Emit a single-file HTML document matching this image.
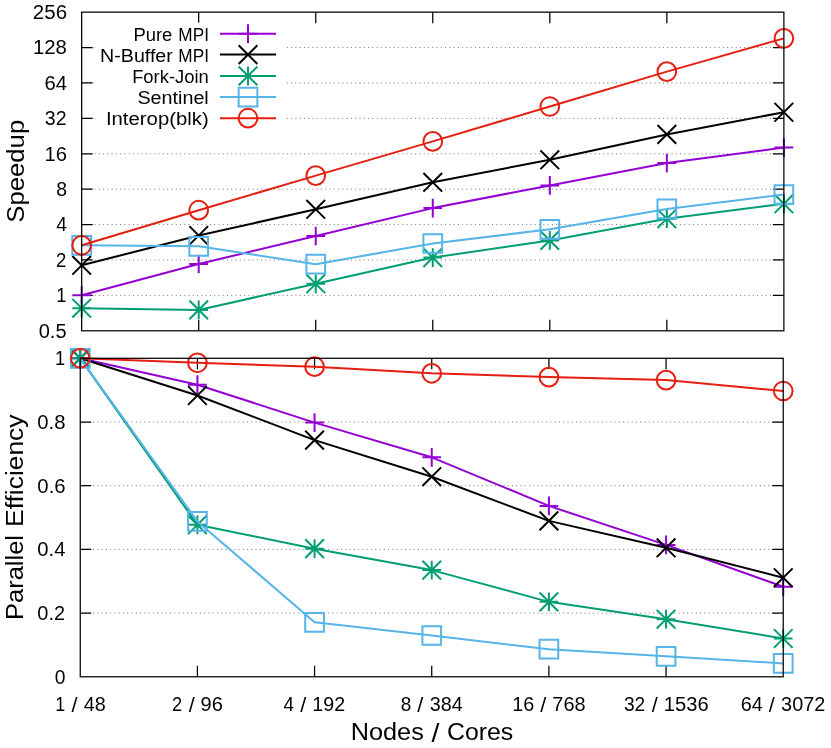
<!DOCTYPE html>
<html lang="en"><head><meta charset="utf-8"><title>Speedup and Parallel Efficiency</title>
<style>html,body{margin:0;padding:0;background:#fff}body{width:831px;height:748px;overflow:hidden;font-family:"Liberation Sans",sans-serif}svg{display:block}</style>
</head><body>
<svg width="831" height="748" viewBox="0 0 831 748" font-family="'Liberation Sans', sans-serif" fill="#000">
<rect width="831" height="748" fill="#fff"/>
<g>
<path d="M81.67 47.56H783.88M81.67 82.96H783.88M81.67 118.37H783.88M81.67 153.77H783.88M81.67 189.18H783.88M81.67 224.58H783.88M81.67 259.99H783.88M81.67 295.39H783.88" fill="none" stroke="#000" stroke-width="0.55" stroke-dasharray="1 3.2745"/>
<path d="M198.7 330.8v-11.0M198.7 12.15v11.0M315.74 330.8v-11.0M315.74 12.15v11.0M432.77 330.8v-11.0M432.77 12.15v11.0M549.81 330.8v-11.0M549.81 12.15v11.0M666.84 330.8v-11.0M666.84 12.15v11.0M81.67 47.56h11.0M783.88 47.56h-11.0M81.67 82.96h11.0M783.88 82.96h-11.0M81.67 118.37h11.0M783.88 118.37h-11.0M81.67 153.77h11.0M783.88 153.77h-11.0M81.67 189.18h11.0M783.88 189.18h-11.0M81.67 224.58h11.0M783.88 224.58h-11.0M81.67 259.99h11.0M783.88 259.99h-11.0M81.67 295.39h11.0M783.88 295.39h-11.0" fill="none" stroke="#000" stroke-width="1.25"/>
<polyline points="81.67,295.3 198.7,264 315.74,236 432.77,208.1 549.81,185.4 666.84,163 783.88,147.6" fill="none" stroke="#9400D3" stroke-width="2.0" stroke-linejoin="round"/>
<path d="M72.32 295.3H91.02M81.67 285.95V304.65" fill="none" stroke="#9400D3" stroke-width="2.0"/>
<path d="M189.35 264H208.05M198.7 254.65V273.35" fill="none" stroke="#9400D3" stroke-width="2.0"/>
<path d="M306.39 236H325.09M315.74 226.65V245.35" fill="none" stroke="#9400D3" stroke-width="2.0"/>
<path d="M423.42 208.1H442.12M432.77 198.75V217.45" fill="none" stroke="#9400D3" stroke-width="2.0"/>
<path d="M540.46 185.4H559.16M549.81 176.05V194.75" fill="none" stroke="#9400D3" stroke-width="2.0"/>
<path d="M657.49 163H676.19M666.84 153.65V172.35" fill="none" stroke="#9400D3" stroke-width="2.0"/>
<path d="M774.52 147.6H793.23M783.88 138.25V156.95" fill="none" stroke="#9400D3" stroke-width="2.0"/>
<polyline points="81.67,265.3 198.7,235.5 315.74,209.3 432.77,182.3 549.81,159.8 666.84,134.4 783.88,112.25" fill="none" stroke="#000000" stroke-width="2.0" stroke-linejoin="round"/>
<path d="M72.32 255.95L91.02 274.65M72.32 274.65L91.02 255.95" fill="none" stroke="#000000" stroke-width="2.0"/>
<path d="M189.35 226.15L208.05 244.85M189.35 244.85L208.05 226.15" fill="none" stroke="#000000" stroke-width="2.0"/>
<path d="M306.39 199.95L325.09 218.65M306.39 218.65L325.09 199.95" fill="none" stroke="#000000" stroke-width="2.0"/>
<path d="M423.42 172.95L442.12 191.65M423.42 191.65L442.12 172.95" fill="none" stroke="#000000" stroke-width="2.0"/>
<path d="M540.46 150.45L559.16 169.15M540.46 169.15L559.16 150.45" fill="none" stroke="#000000" stroke-width="2.0"/>
<path d="M657.49 125.05L676.19 143.75M657.49 143.75L676.19 125.05" fill="none" stroke="#000000" stroke-width="2.0"/>
<path d="M774.52 102.9L793.23 121.6M774.52 121.6L793.23 102.9" fill="none" stroke="#000000" stroke-width="2.0"/>
<polyline points="81.67,308.2 198.7,309.9 315.74,283.8 432.77,257.6 549.81,240.4 666.84,218.7 783.88,203.8" fill="none" stroke="#009E73" stroke-width="2.0" stroke-linejoin="round"/>
<path d="M72.32 308.2H91.02M81.67 298.85V317.55M72.32 298.85L91.02 317.55M72.32 317.55L91.02 298.85" fill="none" stroke="#009E73" stroke-width="2.0"/>
<path d="M189.35 309.9H208.05M198.7 300.55V319.25M189.35 300.55L208.05 319.25M189.35 319.25L208.05 300.55" fill="none" stroke="#009E73" stroke-width="2.0"/>
<path d="M306.39 283.8H325.09M315.74 274.45V293.15M306.39 274.45L325.09 293.15M306.39 293.15L325.09 274.45" fill="none" stroke="#009E73" stroke-width="2.0"/>
<path d="M423.42 257.6H442.12M432.77 248.25V266.95M423.42 248.25L442.12 266.95M423.42 266.95L442.12 248.25" fill="none" stroke="#009E73" stroke-width="2.0"/>
<path d="M540.46 240.4H559.16M549.81 231.05V249.75M540.46 231.05L559.16 249.75M540.46 249.75L559.16 231.05" fill="none" stroke="#009E73" stroke-width="2.0"/>
<path d="M657.49 218.7H676.19M666.84 209.35V228.05M657.49 209.35L676.19 228.05M657.49 228.05L676.19 209.35" fill="none" stroke="#009E73" stroke-width="2.0"/>
<path d="M774.52 203.8H793.23M783.88 194.45V213.15M774.52 194.45L793.23 213.15M774.52 213.15L793.23 194.45" fill="none" stroke="#009E73" stroke-width="2.0"/>
<polyline points="81.67,245.3 198.7,246.3 315.74,264.2 432.77,243.5 549.81,229.3 666.84,208.9 783.88,194.6" fill="none" stroke="#56B4E9" stroke-width="2.0" stroke-linejoin="round"/>
<path d="M72.32 235.95H91.02V254.65H72.32Z" fill="none" stroke="#56B4E9" stroke-width="2.0"/>
<path d="M189.35 236.95H208.05V255.65H189.35Z" fill="none" stroke="#56B4E9" stroke-width="2.0"/>
<path d="M306.39 254.85H325.09V273.55H306.39Z" fill="none" stroke="#56B4E9" stroke-width="2.0"/>
<path d="M423.42 234.15H442.12V252.85H423.42Z" fill="none" stroke="#56B4E9" stroke-width="2.0"/>
<path d="M540.46 219.95H559.16V238.65H540.46Z" fill="none" stroke="#56B4E9" stroke-width="2.0"/>
<path d="M657.49 199.55H676.19V218.25H657.49Z" fill="none" stroke="#56B4E9" stroke-width="2.0"/>
<path d="M774.52 185.25H793.23V203.95H774.52Z" fill="none" stroke="#56B4E9" stroke-width="2.0"/>
<polyline points="81.67,245.3 198.7,210.2 315.74,175.6 432.77,141.4 549.81,106.5 666.84,71.6 783.88,38.35" fill="none" stroke="#E51E10" stroke-width="2.0" stroke-linejoin="round"/>
<circle cx="81.67" cy="245.3" r="9.35" fill="none" stroke="#E51E10" stroke-width="2.0"/>
<circle cx="198.7" cy="210.2" r="9.35" fill="none" stroke="#E51E10" stroke-width="2.0"/>
<circle cx="315.74" cy="175.6" r="9.35" fill="none" stroke="#E51E10" stroke-width="2.0"/>
<circle cx="432.77" cy="141.4" r="9.35" fill="none" stroke="#E51E10" stroke-width="2.0"/>
<circle cx="549.81" cy="106.5" r="9.35" fill="none" stroke="#E51E10" stroke-width="2.0"/>
<circle cx="666.84" cy="71.6" r="9.35" fill="none" stroke="#E51E10" stroke-width="2.0"/>
<circle cx="783.88" cy="38.35" r="9.35" fill="none" stroke="#E51E10" stroke-width="2.0"/>
<rect x="95.0" y="22.6" width="191.3" height="106.4" fill="#fff"/>
<path d="M219.9 33.7H276.1" stroke="#9400D3" stroke-width="2.0" fill="none"/>
<path d="M238.65 33.7H257.35M248 24.35V43.05" fill="none" stroke="#9400D3" stroke-width="2.0"/>
<path d="M219.9 54.6H276.1" stroke="#000000" stroke-width="2.0" fill="none"/>
<path d="M238.65 45.25L257.35 63.95M238.65 63.95L257.35 45.25" fill="none" stroke="#000000" stroke-width="2.0"/>
<path d="M219.9 75.9H276.1" stroke="#009E73" stroke-width="2.0" fill="none"/>
<path d="M238.65 75.9H257.35M248 66.55V85.25M238.65 66.55L257.35 85.25M238.65 85.25L257.35 66.55" fill="none" stroke="#009E73" stroke-width="2.0"/>
<path d="M219.9 97.1H276.1" stroke="#56B4E9" stroke-width="2.0" fill="none"/>
<path d="M238.65 87.75H257.35V106.45H238.65Z" fill="none" stroke="#56B4E9" stroke-width="2.0"/>
<path d="M219.9 118.2H276.1" stroke="#E51E10" stroke-width="2.0" fill="none"/>
<circle cx="248" cy="118.2" r="9.35" fill="none" stroke="#E51E10" stroke-width="2.0"/>
<rect x="81.67" y="12.15" width="702.21" height="318.65" fill="none" stroke="#000" stroke-width="1.25"/>
</g>
<g>
<path d="M80.25 422H783.22M80.25 485.7H783.22M80.25 549.4H783.22M80.25 613.1H783.22" fill="none" stroke="#000" stroke-width="0.55" stroke-dasharray="1 3.2745"/>
<path d="M197.41 676.8v-11.0M197.41 358.3v11.0M314.57 676.8v-11.0M314.57 358.3v11.0M431.73 676.8v-11.0M431.73 358.3v11.0M548.9 676.8v-11.0M548.9 358.3v11.0M666.06 676.8v-11.0M666.06 358.3v11.0M80.25 422h11.0M783.22 422h-11.0M80.25 485.7h11.0M783.22 485.7h-11.0M80.25 549.4h11.0M783.22 549.4h-11.0M80.25 613.1h11.0M783.22 613.1h-11.0" fill="none" stroke="#000" stroke-width="1.25"/>
<polyline points="80.25,358.3 197.41,384.7 314.57,422.6 431.73,457.3 548.9,505.9 666.06,544.9 783.22,586.7" fill="none" stroke="#9400D3" stroke-width="2.0" stroke-linejoin="round"/>
<path d="M70.9 358.3H89.6M80.25 348.95V367.65" fill="none" stroke="#9400D3" stroke-width="2.0"/>
<path d="M188.06 384.7H206.76M197.41 375.35V394.05" fill="none" stroke="#9400D3" stroke-width="2.0"/>
<path d="M305.22 422.6H323.92M314.57 413.25V431.95" fill="none" stroke="#9400D3" stroke-width="2.0"/>
<path d="M422.38 457.3H441.08M431.73 447.95V466.65" fill="none" stroke="#9400D3" stroke-width="2.0"/>
<path d="M539.55 505.9H558.25M548.9 496.55V515.25" fill="none" stroke="#9400D3" stroke-width="2.0"/>
<path d="M656.71 544.9H675.41M666.06 535.55V554.25" fill="none" stroke="#9400D3" stroke-width="2.0"/>
<path d="M773.87 586.7H792.57M783.22 577.35V596.05" fill="none" stroke="#9400D3" stroke-width="2.0"/>
<polyline points="80.25,358.3 197.41,395.5 314.57,440.1 431.73,476.7 548.9,520.9 666.06,547.8 783.22,577.7" fill="none" stroke="#000000" stroke-width="2.0" stroke-linejoin="round"/>
<path d="M70.9 348.95L89.6 367.65M70.9 367.65L89.6 348.95" fill="none" stroke="#000000" stroke-width="2.0"/>
<path d="M188.06 386.15L206.76 404.85M188.06 404.85L206.76 386.15" fill="none" stroke="#000000" stroke-width="2.0"/>
<path d="M305.22 430.75L323.92 449.45M305.22 449.45L323.92 430.75" fill="none" stroke="#000000" stroke-width="2.0"/>
<path d="M422.38 467.35L441.08 486.05M422.38 486.05L441.08 467.35" fill="none" stroke="#000000" stroke-width="2.0"/>
<path d="M539.55 511.55L558.25 530.25M539.55 530.25L558.25 511.55" fill="none" stroke="#000000" stroke-width="2.0"/>
<path d="M656.71 538.45L675.41 557.15M656.71 557.15L675.41 538.45" fill="none" stroke="#000000" stroke-width="2.0"/>
<path d="M773.87 568.35L792.57 587.05M773.87 587.05L792.57 568.35" fill="none" stroke="#000000" stroke-width="2.0"/>
<polyline points="80.25,358.3 197.41,524.8 314.57,548.65 431.73,570.1 548.9,601.85 666.06,619.2 783.22,638.5" fill="none" stroke="#009E73" stroke-width="2.0" stroke-linejoin="round"/>
<path d="M70.9 358.3H89.6M80.25 348.95V367.65M70.9 348.95L89.6 367.65M70.9 367.65L89.6 348.95" fill="none" stroke="#009E73" stroke-width="2.0"/>
<path d="M188.06 524.8H206.76M197.41 515.45V534.15M188.06 515.45L206.76 534.15M188.06 534.15L206.76 515.45" fill="none" stroke="#009E73" stroke-width="2.0"/>
<path d="M305.22 548.65H323.92M314.57 539.3V558M305.22 539.3L323.92 558M305.22 558L323.92 539.3" fill="none" stroke="#009E73" stroke-width="2.0"/>
<path d="M422.38 570.1H441.08M431.73 560.75V579.45M422.38 560.75L441.08 579.45M422.38 579.45L441.08 560.75" fill="none" stroke="#009E73" stroke-width="2.0"/>
<path d="M539.55 601.85H558.25M548.9 592.5V611.2M539.55 592.5L558.25 611.2M539.55 611.2L558.25 592.5" fill="none" stroke="#009E73" stroke-width="2.0"/>
<path d="M656.71 619.2H675.41M666.06 609.85V628.55M656.71 609.85L675.41 628.55M656.71 628.55L675.41 609.85" fill="none" stroke="#009E73" stroke-width="2.0"/>
<path d="M773.87 638.5H792.57M783.22 629.15V647.85M773.87 629.15L792.57 647.85M773.87 647.85L792.57 629.15" fill="none" stroke="#009E73" stroke-width="2.0"/>
<polyline points="80.25,358.3 197.41,521.4 314.57,622.3 431.73,635.5 548.9,649.2 666.06,656.3 783.22,663.4" fill="none" stroke="#56B4E9" stroke-width="2.0" stroke-linejoin="round"/>
<path d="M70.9 348.95H89.6V367.65H70.9Z" fill="none" stroke="#56B4E9" stroke-width="2.0"/>
<path d="M188.06 512.05H206.76V530.75H188.06Z" fill="none" stroke="#56B4E9" stroke-width="2.0"/>
<path d="M305.22 612.95H323.92V631.65H305.22Z" fill="none" stroke="#56B4E9" stroke-width="2.0"/>
<path d="M422.38 626.15H441.08V644.85H422.38Z" fill="none" stroke="#56B4E9" stroke-width="2.0"/>
<path d="M539.55 639.85H558.25V658.55H539.55Z" fill="none" stroke="#56B4E9" stroke-width="2.0"/>
<path d="M656.71 646.95H675.41V665.65H656.71Z" fill="none" stroke="#56B4E9" stroke-width="2.0"/>
<path d="M773.87 654.05H792.57V672.75H773.87Z" fill="none" stroke="#56B4E9" stroke-width="2.0"/>
<polyline points="80.25,358.3 197.41,362.8 314.57,366.7 431.73,373.3 548.9,377.1 666.06,380.1 783.22,391" fill="none" stroke="#E51E10" stroke-width="2.0" stroke-linejoin="round"/>
<circle cx="80.25" cy="358.3" r="9.35" fill="none" stroke="#E51E10" stroke-width="2.0"/>
<circle cx="197.41" cy="362.8" r="9.35" fill="none" stroke="#E51E10" stroke-width="2.0"/>
<circle cx="314.57" cy="366.7" r="9.35" fill="none" stroke="#E51E10" stroke-width="2.0"/>
<circle cx="431.73" cy="373.3" r="9.35" fill="none" stroke="#E51E10" stroke-width="2.0"/>
<circle cx="548.9" cy="377.1" r="9.35" fill="none" stroke="#E51E10" stroke-width="2.0"/>
<circle cx="666.06" cy="380.1" r="9.35" fill="none" stroke="#E51E10" stroke-width="2.0"/>
<circle cx="783.22" cy="391" r="9.35" fill="none" stroke="#E51E10" stroke-width="2.0"/>
<rect x="80.25" y="358.3" width="702.97" height="318.5" fill="none" stroke="#000" stroke-width="1.25"/>
</g>
<g opacity="0.999">
<text transform="translate(0 18.95)" font-size="19.44"><tspan x="32.86" textLength="34.17" lengthAdjust="spacingAndGlyphs">256</tspan></text>
<text transform="translate(0 54.36)" font-size="19.44"><tspan x="33.04" textLength="33.89" lengthAdjust="spacingAndGlyphs">128</tspan></text>
<text transform="translate(0 89.76)" font-size="19.44"><tspan x="44.4" textLength="22.5" lengthAdjust="spacingAndGlyphs">64</tspan></text>
<text transform="translate(0 125.17)" font-size="19.44"><tspan x="44.77" textLength="21.78" lengthAdjust="spacingAndGlyphs">32</tspan></text>
<text transform="translate(0 160.57)" font-size="19.44"><tspan x="44.63" textLength="22.44" lengthAdjust="spacingAndGlyphs">16</tspan></text>
<text transform="translate(0 195.98)" font-size="19.44"><tspan x="56.13" textLength="10.77" lengthAdjust="spacingAndGlyphs">8</tspan></text>
<text transform="translate(0 231.38)" font-size="19.44"><tspan x="56.15" textLength="10.67" lengthAdjust="spacingAndGlyphs">4</tspan></text>
<text transform="translate(0 266.79)" font-size="19.44"><tspan x="56.11" textLength="10.34" lengthAdjust="spacingAndGlyphs">2</tspan></text>
<text transform="translate(0 302.19)" font-size="19.44"><tspan x="56.35" textLength="10.18" lengthAdjust="spacingAndGlyphs">1</tspan></text>
<text transform="translate(0 337.6)" font-size="19.44"><tspan x="38.74" textLength="27.81" lengthAdjust="spacingAndGlyphs">0.5</tspan></text>
<text transform="translate(0 365.1)" font-size="19.44"><tspan x="54.95" textLength="10.18" lengthAdjust="spacingAndGlyphs">1</tspan></text>
<text transform="translate(0 428.8)" font-size="19.44"><tspan x="37.33" textLength="28.2" lengthAdjust="spacingAndGlyphs">0.8</tspan></text>
<text transform="translate(0 492.5)" font-size="19.44"><tspan x="37.32" textLength="28.3" lengthAdjust="spacingAndGlyphs">0.6</tspan></text>
<text transform="translate(0 556.2)" font-size="19.44"><tspan x="37.33" textLength="28.12" lengthAdjust="spacingAndGlyphs">0.4</tspan></text>
<text transform="translate(0 619.9)" font-size="19.44"><tspan x="37.34" textLength="27.78" lengthAdjust="spacingAndGlyphs">0.2</tspan></text>
<text transform="translate(0 683.6)" font-size="19.44"><tspan x="54.73" textLength="10.71" lengthAdjust="spacingAndGlyphs">0</tspan></text>
<text transform="translate(0 710.8)" font-size="19.44"><tspan x="55.15" y="0" textLength="9.99" lengthAdjust="spacingAndGlyphs">1</tspan> <tspan x="71.56" y="1.48" font-size="20.37" textLength="6.03" lengthAdjust="spacingAndGlyphs">/</tspan> <tspan x="83.66" y="0" textLength="21.99" lengthAdjust="spacingAndGlyphs">48</tspan></text>
<text transform="translate(0 710.8)" font-size="19.44"><tspan x="172.08" y="0" textLength="10.15" lengthAdjust="spacingAndGlyphs">2</tspan> <tspan x="188.73" y="1.48" font-size="20.37" textLength="6.03" lengthAdjust="spacingAndGlyphs">/</tspan> <tspan x="200.58" y="0" textLength="22.34" lengthAdjust="spacingAndGlyphs">96</tspan></text>
<text transform="translate(0 710.8)" font-size="19.44"><tspan x="283.6" y="0" textLength="10.47" lengthAdjust="spacingAndGlyphs">4</tspan> <tspan x="300.21" y="1.48" font-size="20.37" textLength="6.03" lengthAdjust="spacingAndGlyphs">/</tspan> <tspan x="312.39" y="0" textLength="32.82" lengthAdjust="spacingAndGlyphs">192</tspan></text>
<text transform="translate(0 710.8)" font-size="19.44"><tspan x="400.74" y="0" textLength="10.56" lengthAdjust="spacingAndGlyphs">8</tspan> <tspan x="417.37" y="1.48" font-size="20.37" textLength="6.03" lengthAdjust="spacingAndGlyphs">/</tspan> <tspan x="429.66" y="0" textLength="33.04" lengthAdjust="spacingAndGlyphs">384</tspan></text>
<text transform="translate(0 710.8)" font-size="19.44"><tspan x="512.3" y="0" textLength="22.01" lengthAdjust="spacingAndGlyphs">16</tspan> <tspan x="540.21" y="1.48" font-size="20.37" textLength="6.03" lengthAdjust="spacingAndGlyphs">/</tspan> <tspan x="552.38" y="0" textLength="33.23" lengthAdjust="spacingAndGlyphs">768</tspan></text>
<text transform="translate(0 710.8)" font-size="19.44"><tspan x="623.92" y="0" textLength="21.36" lengthAdjust="spacingAndGlyphs">32</tspan> <tspan x="651.69" y="1.48" font-size="20.37" textLength="6.03" lengthAdjust="spacingAndGlyphs">/</tspan> <tspan x="663.84" y="0" textLength="44.76" lengthAdjust="spacingAndGlyphs">1536</tspan></text>
<text transform="translate(0 710.8)" font-size="19.44"><tspan x="740.73" y="0" textLength="22.07" lengthAdjust="spacingAndGlyphs">64</tspan> <tspan x="768.86" y="1.48" font-size="20.37" textLength="6.03" lengthAdjust="spacingAndGlyphs">/</tspan> <tspan x="781.14" y="0" textLength="44.13" lengthAdjust="spacingAndGlyphs">3072</tspan></text>
<text transform="translate(0 40.6)" font-size="18.99"><tspan x="133.45" textLength="38.88" lengthAdjust="spacingAndGlyphs">Pure</tspan> <tspan x="178.36" textLength="30.61" lengthAdjust="spacingAndGlyphs">MPI</tspan></text>
<text transform="translate(0 61.5)" font-size="18.99"><tspan x="100.12" textLength="72.66" lengthAdjust="spacingAndGlyphs">N-Buffer</tspan> <tspan x="178.36" textLength="30.61" lengthAdjust="spacingAndGlyphs">MPI</tspan></text>
<text transform="translate(0 82.8)" font-size="18.99"><tspan x="132.14" textLength="76.63" lengthAdjust="spacingAndGlyphs">Fork-Join</tspan></text>
<text transform="translate(0 104)" font-size="18.99"><tspan x="137.42" textLength="71.35" lengthAdjust="spacingAndGlyphs">Sentinel</tspan></text>
<text transform="translate(0 125.1)" font-size="18.99"><tspan x="105.91" textLength="102.89" lengthAdjust="spacingAndGlyphs">Interop(blk)</tspan></text>
<text transform="translate(0 740.3)" font-size="24.79"><tspan x="350.67" y="0" textLength="73.14" lengthAdjust="spacingAndGlyphs">Nodes</tspan> <tspan x="431.51" y="1.91" font-size="26.3" textLength="7.94" lengthAdjust="spacingAndGlyphs">/</tspan> <tspan x="446.95" y="0" textLength="66.33" lengthAdjust="spacingAndGlyphs">Cores</tspan></text>
<text transform="translate(24.4 0) rotate(-90)" font-size="24.79"><tspan x="-222.67" textLength="102.86" lengthAdjust="spacingAndGlyphs">Speedup</tspan></text>
<text transform="translate(23.1 0) rotate(-90)" font-size="24.79"><tspan x="-619.96" textLength="84.96" lengthAdjust="spacingAndGlyphs">Parallel</tspan> <tspan x="-526.94" textLength="112.43" lengthAdjust="spacingAndGlyphs">Efficiency</tspan></text>
</g>
</svg>
</body></html>
